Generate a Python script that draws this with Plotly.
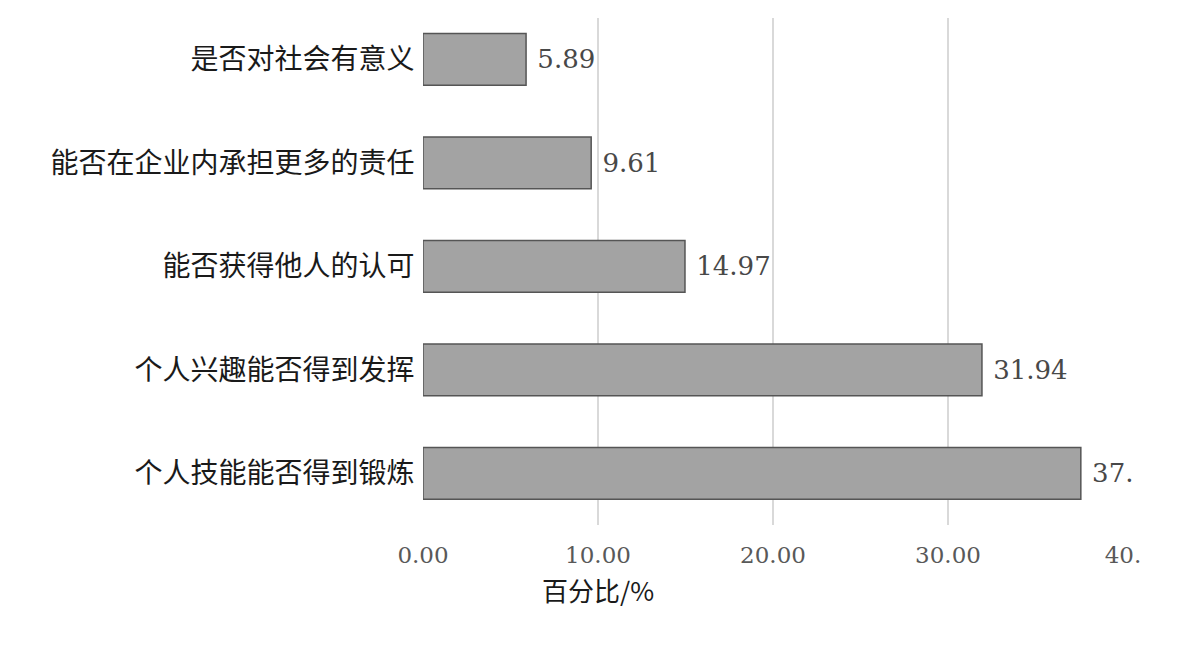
import plotly.graph_objects as go

# bottom-to-top order, as plotly draws horizontal bars
categories = [
    '个人技能能否得到锻炼',
    '个人兴趣能否得到发挥',
    '能否获得他人的认可',
    '能否在企业内承担更多的责任',
    '是否对社会有意义',
]
percentages = [37.59, 31.94, 14.97, 9.61, 5.89]
value_labels = ['37.', '31.94', '14.97', '9.61', '5.89']

tick_values = [0, 10, 20, 30, 40]
tick_labels = ['0.00', '10.00', '20.00', '30.00', '40.']

SERIF = 'DejaVu Serif, Liberation Serif, serif'
CJK = 'Noto Sans CJK SC, sans-serif'

fig = go.Figure()

fig.add_trace(go.Bar(
    x=percentages,
    y=categories,
    orientation='h',
    width=0.5,
    marker=dict(color='#a3a3a3', line=dict(color='#555555', width=1.5)),
    text=value_labels,
    texttemplate=' %{text}',
    textposition='outside',
    constraintext='none',
    cliponaxis=False,
    textfont=dict(family=SERIF, size=26, color='#484848'),
    hovertemplate='%{y}: %{x:.2f}%<extra></extra>'
))

fig.update_layout(
    width=1192,
    height=671,
    margin=dict(l=415, r=77, t=10, b=154),
    paper_bgcolor='white',
    plot_bgcolor='white',
    showlegend=False,
    xaxis=dict(
        range=[0, 40],
        tickvals=tick_values,
        ticktext=tick_labels,
        showgrid=True,
        gridcolor='#d9d9d9',
        gridwidth=1.5,
        zeroline=False,
        showline=False,
        ticks='outside',
        ticklen=9,
        tickcolor='rgba(0,0,0,0)',
        tickfont=dict(family=SERIF, size=23, color='#595959'),
    ),
    yaxis=dict(
        range=[-0.5, 4.4],
        showgrid=False,
        zeroline=False,
        showline=False,
        ticks='outside',
        ticklen=2,
        tickcolor='rgba(0,0,0,0)',
        tickfont=dict(family=CJK, size=28, color='#1a1a1a'),
    ),
    annotations=[dict(
        text='百分比/%',
        xref='paper', yref='paper',
        x=0.25, y=-0.128,
        xanchor='center', yanchor='middle',
        showarrow=False,
        font=dict(family=CJK, size=26, color='#1a1a1a'),
    )],
)

fig.write_html("out.html")
